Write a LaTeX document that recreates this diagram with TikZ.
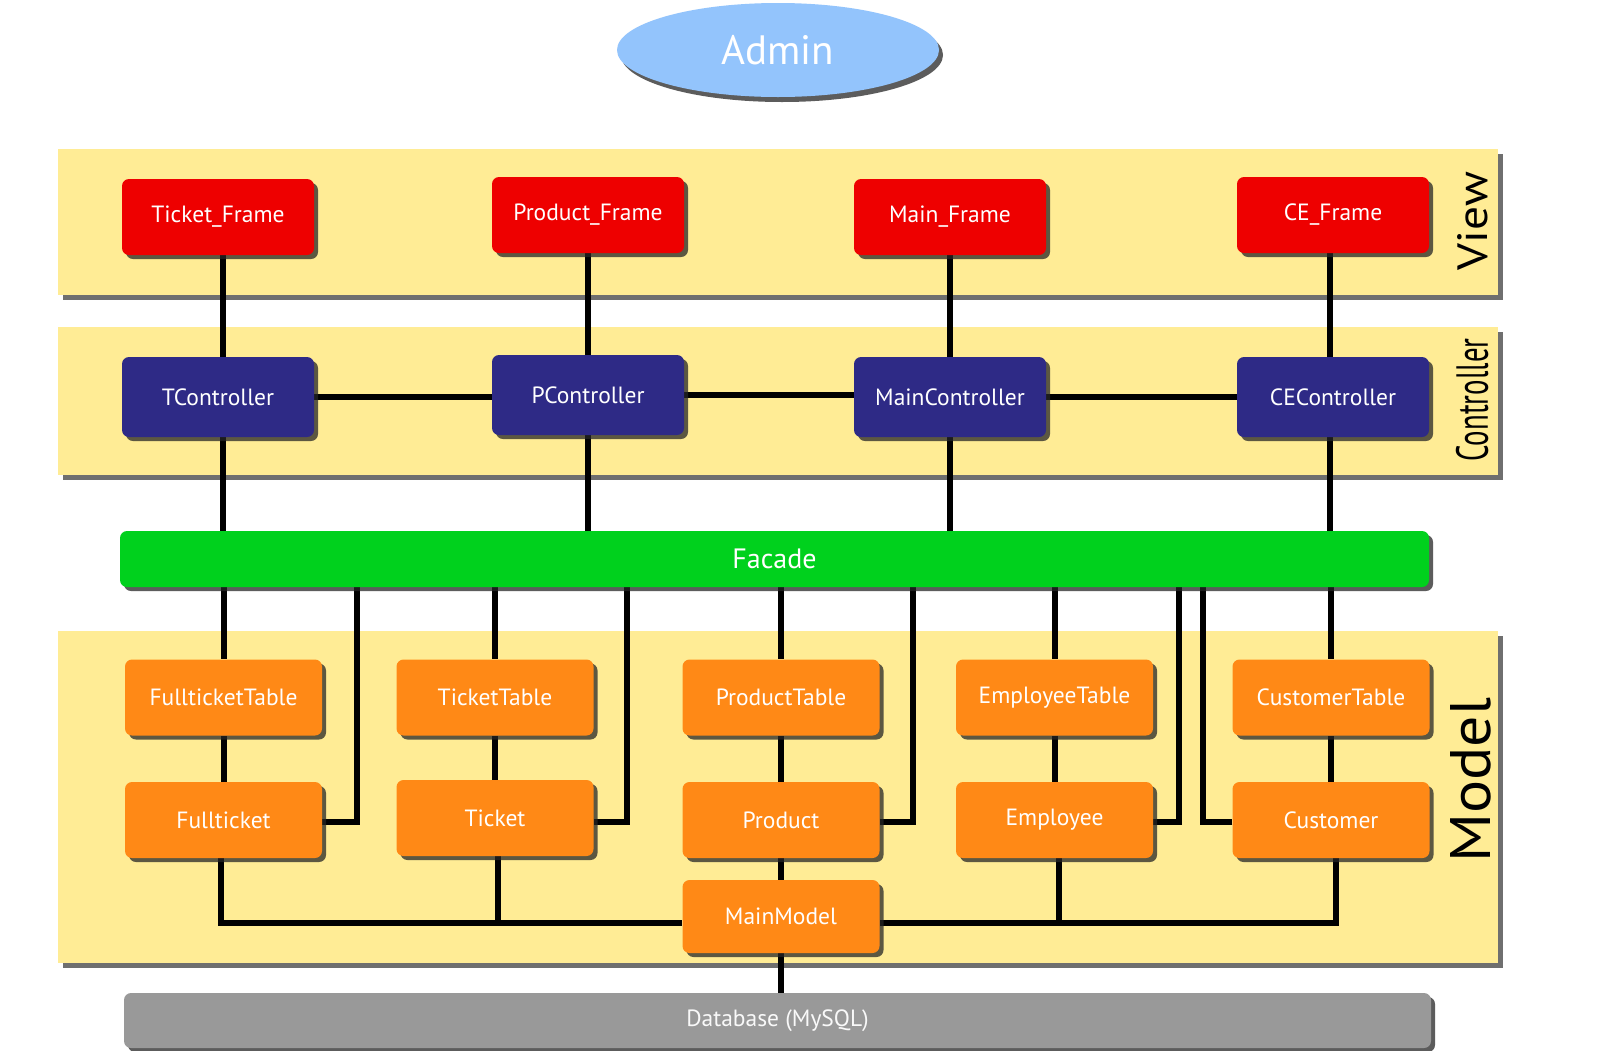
\documentclass[tikz,border=0pt]{standalone}
\usepackage{fontspec}
\setmainfont{PT Sans}
\usetikzlibrary{shadows,calc,shapes.geometric}
\definecolor{bandc}{HTML}{FFEC95}
\definecolor{redc}{HTML}{EE0000}
\definecolor{navyc}{HTML}{2E2A86}
\definecolor{greenc}{HTML}{00D11D}
\definecolor{orangec}{HTML}{FF8916}
\definecolor{grayc}{HTML}{999999}
\definecolor{bluec}{HTML}{93C4FC}
\pgfdeclarelayer{bands}
\pgfdeclarelayer{links}
\pgfsetlayers{bands,links,main}
\tikzset{
  box/.style={rectangle, rounded corners=7pt, inner sep=0pt, text=white,
    font=\fontsize{23.5}{27}\selectfont,
    drop shadow={shadow xshift=4pt, shadow yshift=-4pt, opacity=0.75, fill=black!85}},
  frame/.style={box, fill=redc, minimum width=192pt, minimum height=76pt},
  ctrl/.style={box, fill=navyc, minimum width=192pt, minimum height=80pt},
  mdl/.style={box, fill=orangec, minimum width=197pt, minimum height=76pt},
  band/.style={rectangle, fill=bandc, inner sep=0pt, minimum width=1440pt,
    drop shadow={shadow xshift=5pt, shadow yshift=-5pt, opacity=0.7, fill=black!80}},
  layerlabel/.style={rotate=90, inner sep=0pt, text=black},
  conn/.style={line width=6pt, black}
}
\begin{document}
\begin{tikzpicture}[x=1pt,y=-1pt]
\useasboundingbox (0,0) rectangle (1600,1050);

% bands
\begin{pgfonlayer}{bands}
\fill[white] (0,0) rectangle (1600,1050);
\node[band, minimum height=146pt] (viewband) at (778,222) {};
\node[band, minimum height=148pt] (ctrlband) at (778,401) {};
\node[band, minimum height=332pt] (modelband) at (778,797) {};
\end{pgfonlayer}
\node[layerlabel] (viewlbl) at (1473,221) {\resizebox{98pt}{30pt}{View}};
\node[layerlabel] (ctrllbl) at (1472,400) {\resizebox{123pt}{32pt}{Controller}};
\node[layerlabel] (modellbl) at (1471,780) {\resizebox{165pt}{40pt}{Model}};

% Admin
\node[ellipse, fill=bluec, minimum width=322pt, minimum height=94pt, inner sep=0pt,
  text=white, font=\fontsize{41}{45}\selectfont,
  drop shadow={shadow xshift=4pt, shadow yshift=-5pt, opacity=0.75, fill=black!85}]
  (admin) at (778,50) {Admin};

% View
\node[frame] (tf) at (218,217) {Ticket\_Frame};
\node[frame] (pf) at (588,215) {Product\_Frame};
\node[frame] (mf) at (950,217) {Main\_Frame};
\node[frame] (cf) at (1333,215) {CE\_Frame};

% Controller
\node[ctrl] (tc) at (218,397) {TController};
\node[ctrl] (pc) at (588,395) {PController};
\node[ctrl] (mc) at (950,397) {MainController};
\node[ctrl] (cc) at (1333,397) {CEController};

% Facade
\node[box, fill=greenc, minimum width=1309pt, minimum height=56pt,
  font=\fontsize{28}{32}\selectfont] (facade) at (774.5,559) {Facade};

% Model
\node[mdl] (ftt) at (223.5,697.5) {FullticketTable};
\node[mdl] (tt)  at (495,697.5) {TicketTable};
\node[mdl] (prt) at (781,697.5) {ProductTable};
\node[mdl] (et)  at (1054.5,697.5) {EmployeeTable};
\node[mdl] (ct)  at (1331,697.5) {CustomerTable};
\node[mdl] (ft)  at (223.5,820) {Fullticket};
\node[mdl] (tk)  at (495,818) {Ticket};
\node[mdl] (pr)  at (781,820) {Product};
\node[mdl] (em)  at (1054.5,820) {Employee};
\node[mdl] (cu)  at (1331,820) {Customer};
\node[mdl, minimum height=73pt] (mm) at (781,916.5) {MainModel};

% Database
\node[box, fill=grayc, minimum width=1307pt, minimum height=55pt,
  text=white!95!gray] (db) at (777.5,1020.5) {Database (MySQL)};

% stub coordinates for side links
\coordinate (s1) at (357,587);
\coordinate (s2) at (627,587);
\coordinate (s3) at (913,587);
\coordinate (s4) at (1179,587);
\coordinate (s5) at (1203,587);
\coordinate (bus) at (0,923);

\begin{pgfonlayer}{links}
% view - controller
\draw[conn] ([xshift=5pt]tf.south) -- ([xshift=5pt]tc.north);
\draw[conn] ([xshift=5pt]tc.south) -- ([xshift=5pt]tc.south |- facade.north);
\foreach \a/\b in {pf/pc, mf/mc}{
  \draw[conn] (\a.south) -- (\b.north);
  \draw[conn] (\b.south) -- (\b.south |- facade.north);
}
\draw[conn] ([xshift=-3pt]cf.south) -- ([xshift=-3pt]cc.north);
\draw[conn] ([xshift=-3pt]cc.south) -- ([xshift=-3pt]cc.south |- facade.north);
% controllers chain
\draw[conn] (tc.east) -- (tc.east -| pc.west);
\draw[conn] (pc.east) -- (pc.east -| mc.west);
\draw[conn] (mc.east) -- (mc.east -| cc.west);
% facade - tables
\foreach \t in {ftt, tt, prt, et, ct}{
  \draw[conn] (\t.north |- facade.south) -- (\t.north);
}
% tables - entities
\draw[conn] (ftt.south) -- (ft.north);
\draw[conn] (tt.south) -- (tk.north);
\draw[conn] (prt.south) -- (pr.north);
\draw[conn] (et.south) -- (em.north);
\draw[conn] (ct.south) -- (cu.north);
% facade - entities side links
\draw[conn] (ft.east |- 0,822) -| (s1);
\draw[conn] (tk.east |- 0,822) -| (s2);
\draw[conn] (pr.east |- 0,822) -| (s3);
\draw[conn] (em.east |- 0,822) -| (s4);
\draw[conn] (cu.west |- 0,822) -| (s5);
% entities - main model
\draw[conn] ([xshift=-3pt]ft.south) |- (mm.west |- bus);
\draw[conn] ([xshift=3pt]tk.south) -- ([xshift=3pt]tk.south |- bus);
\draw[conn] ([xshift=4pt]em.south) -- ([xshift=4pt]em.south |- bus);
\draw[conn] ([xshift=5pt]cu.south) |- (mm.east |- bus);
\draw[conn] (pr.south) -- (mm.north);
\draw[conn] (mm.south) -- (mm.south |- db.north);
\end{pgfonlayer}
\end{tikzpicture}
\end{document}
